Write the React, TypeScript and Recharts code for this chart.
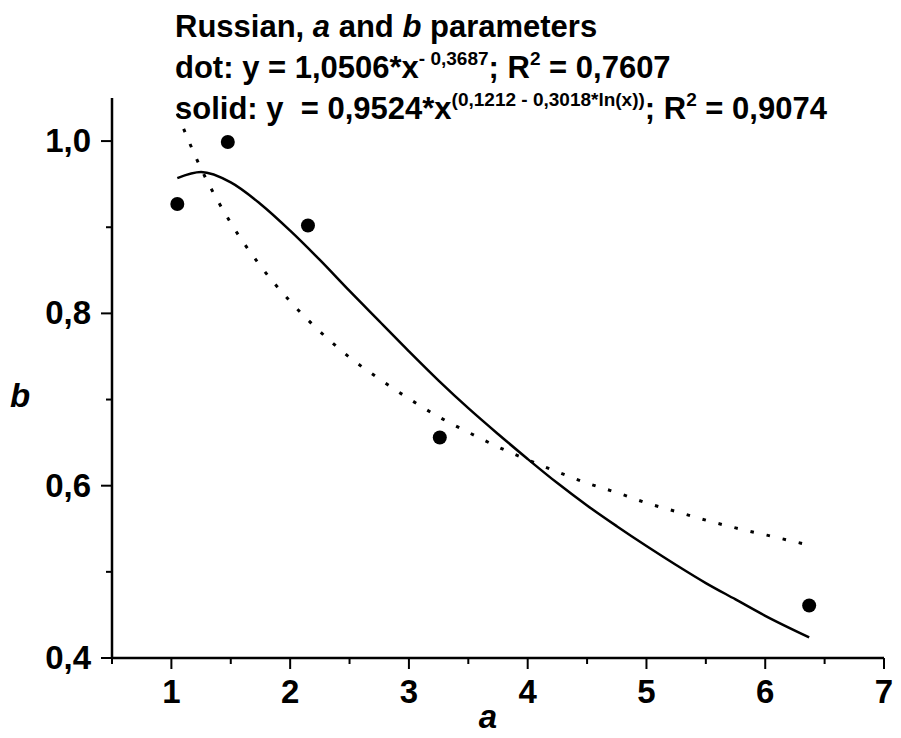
import { ComposedChart, Line, Scatter, XAxis, YAxis } from 'recharts'

// measured points (a, b)
const pointA = [1.05, 1.475, 2.15, 3.26, 6.37]
const pointB = [0.927, 0.999, 0.902, 0.656, 0.461]

// fitted curves
const curveA = [1.05, 1.25, 1.5, 1.75, 2, 2.25, 2.5, 2.75, 3, 3.25, 3.5, 3.75, 4, 4.25, 4.5, 4.75, 5, 5.25, 5.5, 5.75, 6, 6.37]
const solidB = [0.957, 0.964, 0.952, 0.927, 0.896, 0.862, 0.826, 0.791, 0.756, 0.722, 0.69, 0.66, 0.631, 0.603, 0.577, 0.553, 0.53, 0.508, 0.487, 0.468, 0.449, 0.424]
const dottedB = [1.032, 0.968, 0.905, 0.855, 0.814, 0.779, 0.749, 0.724, 0.701, 0.68, 0.662, 0.645, 0.63, 0.616, 0.603, 0.592, 0.58, 0.57, 0.56, 0.551, 0.543, 0.531]

const xTicks = [0.5, 1, 1.5, 2, 2.5, 3, 3.5, 4, 4.5, 5, 5.5, 6, 6.5, 7]
const yTicks = [0.4, 0.5, 0.6, 0.7, 0.8, 0.9, 1.0]
const yLabels = ['0,4', '0,6', '0,8', '1,0']

const FONT = '"Liberation Sans", Arial, sans-serif'

const curveData = curveA.map((a, i) => ({ a, solid: solidB[i], dotted: dottedB[i] }))
const pointData = pointA.map((a, i) => ({ a, b: pointB[i] }))

function XTick({ x, y, payload }: any) {
  const v = payload.value
  const major = Number.isInteger(v)
  return (
    <g>
      <line x1={x} x2={x} y1={y} y2={y + (major ? 11 : 6)} stroke="#000" strokeWidth={2} />
      {major && (
        <text x={x} y={y + 45} textAnchor="middle" fontFamily={FONT} fontWeight="bold" fontSize={33} fill="#000">
          {v}
        </text>
      )}
    </g>
  )
}

function YTick({ x, y, payload }: any) {
  const v = payload.value
  const major = Math.round(v * 10) % 2 === 0
  return (
    <g>
      <line x1={x - (major ? 11 : 6)} x2={x} y1={y} y2={y} stroke="#000" strokeWidth={2} />
      {major && (
        <text x={x - 21} y={y + 11} textAnchor="end" fontFamily={FONT} fontWeight="bold" fontSize={33} fill="#000">
          {yLabels[Math.round((v - 0.4) * 5)]}
        </text>
      )}
    </g>
  )
}

export default function App() {
  return (
    <div style={{ position: 'absolute', left: 0, top: 0, width: 901, height: 738, background: '#fff' }}>
      <ComposedChart width={901} height={738} data={curveData} margin={{ top: 98, right: 17, bottom: 0, left: 0 }}>
        <XAxis
          type="number"
          dataKey="a"
          domain={[0.5, 7]}
          ticks={xTicks}
          interval={0}
          height={80}
          tickSize={0}
          tickMargin={0}
          tickLine={false}
          tick={<XTick />}
          axisLine={{ stroke: '#000', strokeWidth: 2.5 }}
          allowDataOverflow
        />
        <YAxis
          type="number"
          domain={[0.4, 1.05]}
          ticks={yTicks}
          interval={0}
          width={112}
          tickSize={0}
          tickMargin={0}
          tickLine={false}
          tick={<YTick />}
          axisLine={{ stroke: '#000', strokeWidth: 2.5 }}
          allowDataOverflow
        />
        <Line
          dataKey="dotted"
          type="monotone"
          stroke="#000"
          strokeWidth={3}
          strokeDasharray="3.5 13"
          dot={false}
          activeDot={false}
          isAnimationActive={false}
        />
        <Line
          dataKey="solid"
          type="monotone"
          stroke="#000"
          strokeWidth={2.5}
          dot={false}
          activeDot={false}
          isAnimationActive={false}
        />
        <Scatter data={pointData} dataKey="b" fill="#000" shape={(p: any) => <circle cx={p.cx} cy={p.cy} r={7} fill="#000" />} isAnimationActive={false} />
      </ComposedChart>
      <svg width={901} height={738} style={{ position: 'absolute', left: 0, top: 0, pointerEvents: 'none' }}>
        <g fontFamily={FONT} fontWeight="bold" fill="#000">
          <text x={175} y={37} fontSize={31}>
            Russian, <tspan fontStyle="italic">a</tspan> and <tspan fontStyle="italic">b</tspan> parameters
          </text>
          <text x={175} y={78} fontSize={31}>
            dot: y = 1,0506*x
            <tspan dy={-13} fontSize={19}>- 0,3687</tspan>
            <tspan dy={13}>; R</tspan>
            <tspan dy={-13} fontSize={19}>2</tspan>
            <tspan dy={13}> = 0,7607</tspan>
          </text>
          <text x={175} y={119} fontSize={31}>
            {'solid: y\u00a0 = 0,9524*x'}
            <tspan dy={-13} fontSize={19}>(0,1212 - 0,3018*ln(x))</tspan>
            <tspan dy={13}>; R</tspan>
            <tspan dy={-13} fontSize={19}>2</tspan>
            <tspan dy={13}> = 0,9074</tspan>
          </text>
          <text x={10} y={407} fontSize={33} fontStyle="italic">b</text>
          <text x={488} y={728} fontSize={33} fontStyle="italic" textAnchor="middle">a</text>
        </g>
      </svg>
    </div>
  )
}
